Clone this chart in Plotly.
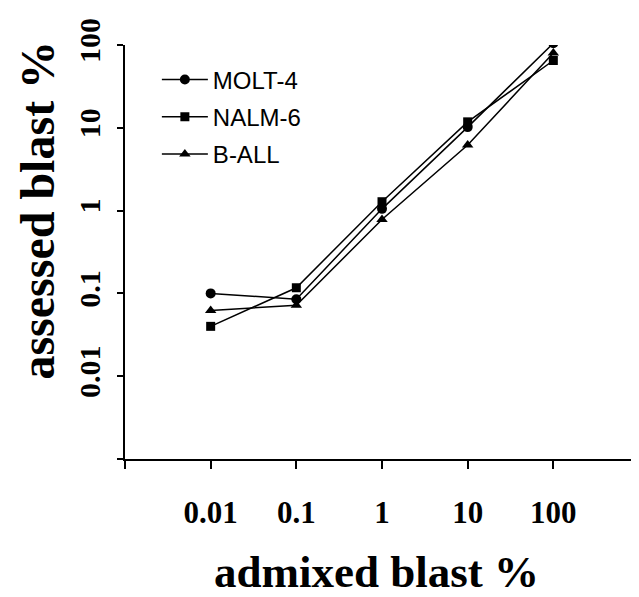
import plotly.graph_objects as go

admixed = [0.01, 0.1, 1, 10, 100]
molt4 = [0.1, 0.085, 1.05, 10.2, 105]
nalm6 = [0.04, 0.117, 1.28, 11.8, 65]
ball = [0.062, 0.072, 0.78, 6.2, 80]

series_names = ["MOLT-4", "NALM-6", "B-ALL"]
series_vals = [molt4, nalm6, ball]
symbols = ["circle", "square", "triangle-up"]
sizes = [10, 9, 10]

x_tickvals = [0.001, 0.01, 0.1, 1, 10, 100, 1000]
x_ticktext = ["", "0.01", "0.1", "1", "10", "100", ""]
y_tickvals = [0.001, 0.01, 0.1, 1, 10, 100]
y_ticktext = ["", "0.01", "0.1", "1", "10", "100"]

SERIF = "Liberation Serif, Times New Roman, serif"

fig = go.Figure()
for i, (name, vals) in enumerate(zip(series_names, series_vals)):
    fig.add_trace(go.Scatter(
        x=admixed, y=vals, name=name, mode="lines+markers",
        legendgroup=name,
        line=dict(color="black", width=1.5),
        marker=dict(symbol=symbols[i], size=sizes[i], color="black"),
    ))

fig.update_layout(
    width=631, height=589,
    margin=dict(l=117, r=0, t=37, b=138),
    paper_bgcolor="white", plot_bgcolor="white",
    showlegend=True,
    legend=dict(
        x=0.062, y=0.97, xanchor="left", yanchor="top",
        bgcolor="rgba(0,0,0,0)",
        font=dict(family="Liberation Sans, Arial, sans-serif", size=24, color="black"),
        itemwidth=46, tracegroupgap=3,
    ),
    xaxis=dict(
        type="log", range=[-3, 3],
        tickvals=x_tickvals, ticktext=x_ticktext,
        ticks="outside", ticklen=8, tickwidth=2, tickcolor="black",
        showline=True, linecolor="black", linewidth=2,
        showgrid=False, zeroline=False,
        tickfont=dict(family=SERIF, size=31, color="black", weight="bold"),
        ticklabelstandoff=17,
    ),
    yaxis=dict(
        type="log", range=[-3, 2],
        tickvals=y_tickvals, ticktext=y_ticktext,
        ticks="outside", ticklen=6, tickwidth=2, tickcolor="black",
        showline=True, linecolor="black", linewidth=2,
        showgrid=False, zeroline=False,
        tickangle=-90,
        tickfont=dict(family=SERIF, size=30, color="black", weight="bold"),
        ticklabelstandoff=5,
    ),
    annotations=[
        dict(text="admixed blast %", xref="paper", yref="paper", x=0.49, y=0,
             xanchor="center", yanchor="middle", yshift=-113, showarrow=False,
             font=dict(family=SERIF, size=45, color="black", weight="bold")),
        dict(text="assessed blast %", xref="paper", yref="paper", x=0, y=0.6,
             xanchor="center", yanchor="middle", xshift=-87, textangle=-90,
             showarrow=False,
             font=dict(family=SERIF, size=48, color="black", weight="bold")),
    ],
)

fig.write_html("out.html")
